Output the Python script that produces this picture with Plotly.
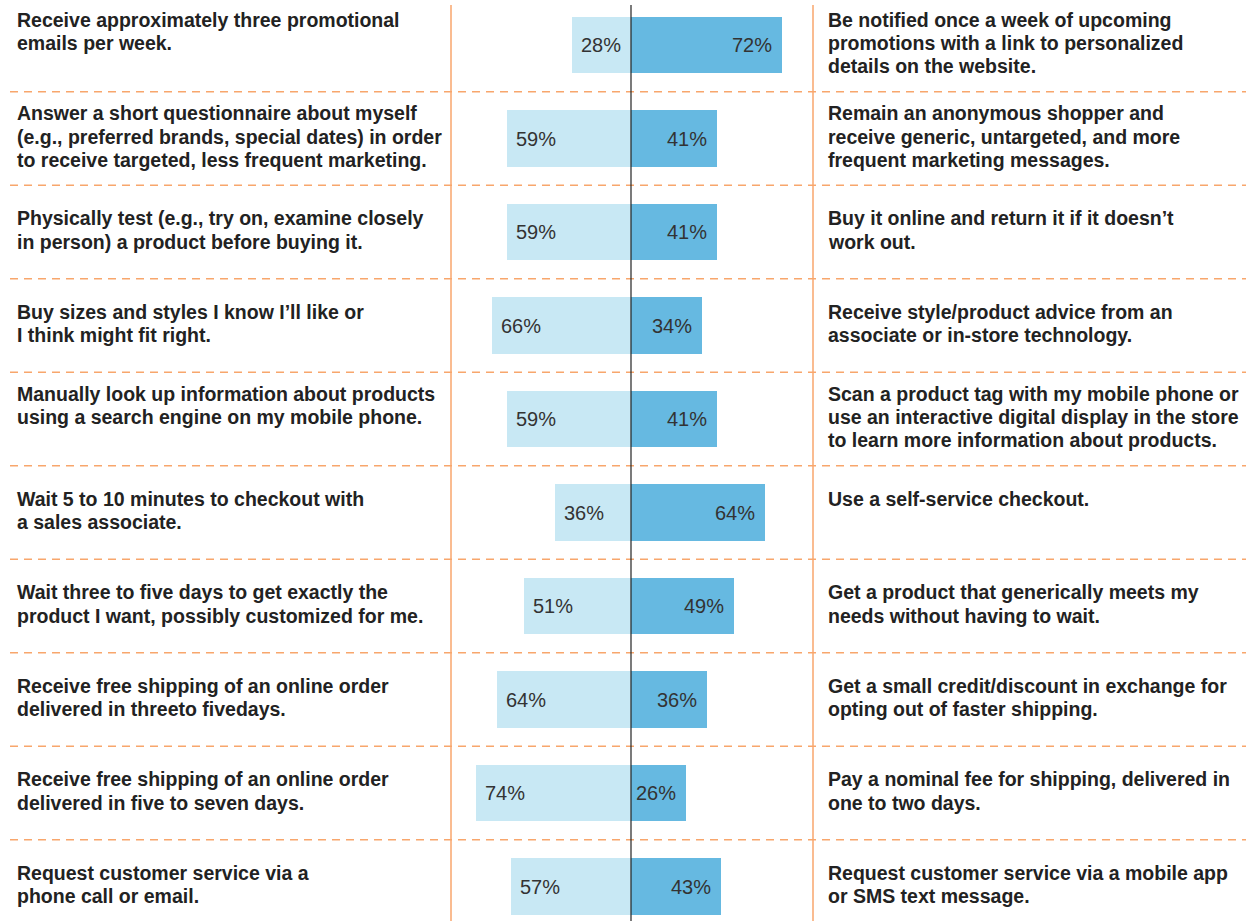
import plotly.graph_objects as go

# ---- data ----
left_values = [28, 59, 59, 66, 59, 36, 51, 64, 74, 57]
right_values = [72, 41, 41, 34, 41, 64, 49, 36, 26, 43]

left_lines = [
    ["Receive approximately three promotional", "emails per week."],
    ["Answer a short questionnaire about myself", "(e.g., preferred brands, special dates) in order", "to receive targeted, less frequent marketing."],
    ["Physically test (e.g., try on, examine closely", "in person) a product before buying it."],
    ["Buy sizes and styles I know I\u2019ll like or", "I think might fit right."],
    ["Manually look up information about products", "using a search engine on my mobile phone."],
    ["Wait 5 to 10 minutes to checkout with", "a sales associate."],
    ["Wait three to five days to get exactly the", "product I want, possibly customized for me."],
    ["Receive free shipping of an online order", "delivered in threeto fivedays."],
    ["Receive free shipping of an online order", "delivered in five to seven days."],
    ["Request customer service via a", "phone call or email."],
]
right_lines = [
    ["Be notified once a week of upcoming", "promotions with a link to personalized", "details on the website."],
    ["Remain an anonymous shopper and", "receive generic, untargeted, and more", "frequent marketing messages."],
    ["Buy it online and return it if it doesn\u2019t", "work out."],
    ["Receive style/product advice from an", "associate or in-store technology."],
    ["Scan a product tag with my mobile phone or", "use an interactive digital display in the store", "to learn more information about products."],
    ["Use a self-service checkout."],
    ["Get a product that generically meets my", "needs without having to wait."],
    ["Get a small credit/discount in exchange for", "opting out of faster shipping."],
    ["Pay a nominal fee for shipping, delivered in", "one to two days."],
    ["Request customer service via a mobile app", "or SMS text message."],
]

rows = list(range(len(left_values)))

# ---- styles ----
W, H = 1246, 921
LIGHT = "#c8e8f4"
DARK = "#66b9e1"
ORANGE = "#f8a66c"
TEXT = "#222222"
PCT = "#333333"
FONT = "Liberation Sans, Arial, sans-serif"
CENTER_PX = 631
PX_PER_PCT = 2.1
ROW_PX = 93.5
FIRST_ROW_PX = 45
LINE_PX = 23.4

fig = go.Figure()
fig.add_trace(go.Bar(y=rows, x=[-v for v in left_values], orientation="h",
                     marker=dict(color=LIGHT, line=dict(width=0)), width=0.6,
                     hoverinfo="skip", showlegend=False))
fig.add_trace(go.Bar(y=rows, x=right_values, orientation="h",
                     marker=dict(color=DARK, line=dict(width=0)), width=0.6,
                     hoverinfo="skip", showlegend=False))

annotations = []
for i, (lv, rv) in enumerate(zip(left_values, right_values)):
    annotations.append(dict(x=-lv, y=i, xref="x", yref="y", text=f"{lv}%",
                            showarrow=False, xanchor="left", yanchor="middle", xshift=7,
                            font=dict(family=FONT, size=20, color=PCT)))
    annotations.append(dict(x=rv, y=i, xref="x", yref="y", text=f"{rv}%",
                            showarrow=False, xanchor="right", yanchor="middle", xshift=-8,
                            font=dict(family=FONT, size=20, color=PCT)))
    n = max(len(left_lines[i]), len(right_lines[i]))
    for lines, xp in ((left_lines[i], 15 / W), (right_lines[i], 826 / W)):
        for k, line in enumerate(lines):
            dy = (k - (n - 1) / 2) * LINE_PX - 2
            annotations.append(dict(x=xp, y=i, xref="paper", yref="y", text=line,
                                    showarrow=False, xanchor="left", yanchor="middle",
                                    yshift=-dy,
                                    font=dict(family=FONT, size=19.5, color=TEXT, weight="bold")))

shapes = []
# horizontal dashed separators
for i in rows[:-1]:
    shapes.append(dict(type="line", xref="paper", yref="y", x0=10 / W, x1=1, y0=i + 0.5, y1=i + 0.5,
                       line=dict(color=ORANGE, width=1.5, dash="8px,6px"), layer="below"))
# vertical orange column lines
for xp in (451, 813):
    shapes.append(dict(type="line", xref="paper", yref="paper", x0=xp / W, x1=xp / W,
                       y0=0, y1=1 - 5 / H, line=dict(color=ORANGE, width=1.5), layer="below"))
# center line
shapes.append(dict(type="line", xref="x", yref="paper", x0=0, x1=0, y0=0, y1=1 - 5 / H,
                   line=dict(color="#222222", width=1.2), layer="above"))

y_top = -FIRST_ROW_PX / ROW_PX
y_bot = y_top + H / ROW_PX

fig.update_layout(
    width=W, height=H,
    margin=dict(l=0, r=0, t=0, b=0),
    paper_bgcolor="white", plot_bgcolor="white",
    barmode="relative", bargap=0,
    xaxis=dict(range=[-CENTER_PX / PX_PER_PCT, (W - CENTER_PX) / PX_PER_PCT], visible=False, fixedrange=True),
    yaxis=dict(range=[y_bot, y_top], visible=False, fixedrange=True),
    annotations=annotations, shapes=shapes,
    showlegend=False,
)

fig.write_html("out.html", config={"displayModeBar": False},
               post_script="document.body.style.margin='0';document.body.style.overflow='hidden';")
